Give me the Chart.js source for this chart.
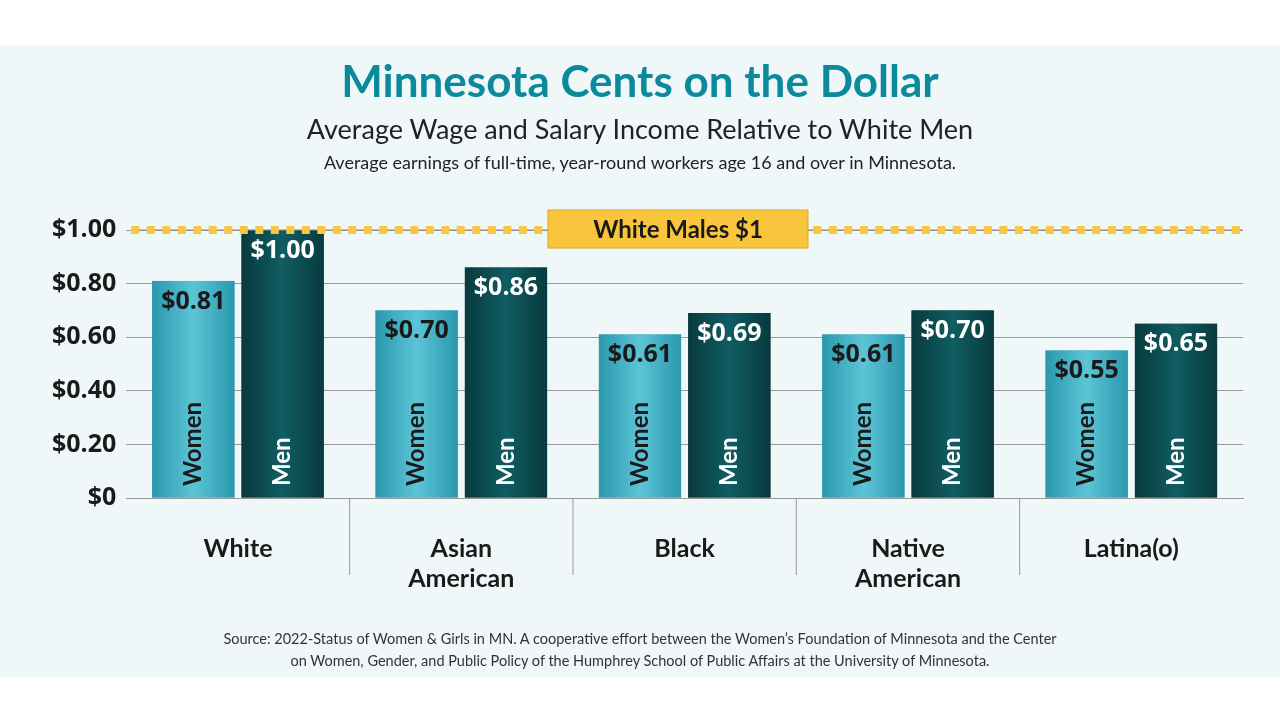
<!DOCTYPE html>
<html>
<head>
<meta charset="utf-8">
<script src="https://cdn.jsdelivr.net/npm/chart.js@4/dist/chart.umd.min.js"></script>
<style>
  body { margin: 0; width: 1280px; height: 720px; background: #fff; font-family: Lato, "Open Sans", sans-serif; overflow: hidden; }
  #panel { position: absolute; left: 0; top: 45px; width: 1280px; height: 632px; background: #eff7f9; }
  #wrap { position: absolute; left: 0; top: 0; width: 1280px; height: 720px; }
  .t { position: absolute; left: 0; width: 1280px; text-align: center; }
  #title { top: 54px; font-size: 44px; font-weight: bold; color: #0b8a9c; }
  #sub { top: 112px; font-size: 27px; color: #222; }
  #sub2 { top: 151px; font-size: 18px; color: #222; }
  #src { top: 628px; font-size: 14.5px; color: #333; line-height: 22px; }
</style>
</head>
<body>
<div id="panel"></div>
<div id="wrap"><canvas id="chart" width="1280" height="720"></canvas></div>
<div class="t" id="title">Minnesota Cents on the Dollar</div>
<div class="t" id="sub">Average Wage and Salary Income Relative to White Men</div>
<div class="t" id="sub2">Average earnings of full-time, year-round workers age 16 and over in Minnesota.</div>
<div class="t" id="src">Source: 2022-Status of Women &amp; Girls in MN. A cooperative effort between the Women’s Foundation of Minnesota and the Center<br>on Women, Gender, and Public Policy of the Humphrey School of Public Affairs at the University of Minnesota.</div>
<script>
const categories = [['White'], ['Asian', 'American'], ['Black'], ['Native', 'American'], ['Latina(o)']];
const womenValues = [0.81, 0.70, 0.61, 0.61, 0.55];
const menValues = [1.00, 0.86, 0.69, 0.70, 0.65];
const seriesNames = ['Women', 'Men'];
const yTicks = [0, 0.2, 0.4, 0.6, 0.8, 1.0];
const referenceValue = 1.0;
const referenceLabel = 'White Males $1';

const barStyle = [
    { edge: '#2b98ae', mid: '#5cc4d6', text: '#1a1a1a' },
    { edge: '#083a3e', mid: '#0f5d62', text: '#ffffff' }
];

const barPlugin = {
    id: 'barDecor',
    afterDatasetsDraw(chart) {
        const ctx = chart.ctx;
        const y = chart.scales.y;
        const area = chart.chartArea;
        ctx.save();
        // gradient fill over each bar, using the bar element geometry
        chart.data.datasets.forEach((ds, i) => {
            chart.getDatasetMeta(i).data.forEach(el => {
                const x0 = el.x - el.width / 2, x1 = el.x + el.width / 2;
                const g = ctx.createLinearGradient(x0, 0, x1, 0);
                g.addColorStop(0, barStyle[i].edge);
                g.addColorStop(0.5, barStyle[i].mid);
                g.addColorStop(1, barStyle[i].edge);
                ctx.fillStyle = g;
                ctx.fillRect(x0, el.y, el.width, el.base - el.y);
            });
        });
        chart.data.datasets.forEach((ds, i) => {
            chart.getDatasetMeta(i).data.forEach((el, j) => {
                ctx.fillStyle = barStyle[i].text;
                ctx.font = 'bold 25px "Open Sans", sans-serif';
                ctx.textAlign = 'center';
                ctx.textBaseline = 'top';
                ctx.fillText('$' + ds.data[j].toFixed(2), el.x, el.y + 8);
                ctx.save();
                ctx.translate(el.x, area.bottom - 12);
                ctx.rotate(-Math.PI / 2);
                ctx.textAlign = 'left';
                ctx.textBaseline = 'middle';
                ctx.font = 'bold 24px Lato, sans-serif';
                ctx.fillText(ds.label, 0, 0);
                ctx.restore();
            });
        });
        // category dividers
        const x = chart.scales.x;
        ctx.strokeStyle = '#999';
        ctx.lineWidth = 1;
        for (let k = 1; k < categories.length; k++) {
            const xp = (x.getPixelForValue(k - 1) + x.getPixelForValue(k)) / 2;
            ctx.beginPath();
            ctx.moveTo(xp, area.bottom);
            ctx.lineTo(xp, area.bottom + 77);
            ctx.stroke();
        }
        // reference line
        const ry = y.getPixelForValue(referenceValue);
        const lx0 = area.left + 5, lx1 = area.right;
        const bx0 = 548, bx1 = 808;
        ctx.strokeStyle = '#8a8a8a';
        ctx.beginPath();
        ctx.moveTo(lx0, ry); ctx.lineTo(lx1, ry);
        ctx.stroke();
        ctx.fillStyle = '#f7c744';
        for (let p = lx0; p < lx1 - 6; p += 15.5) {
            if (p + 8 > bx0 && p < bx1 + 5) continue;
            ctx.fillRect(p, ry - 4, 8, 8);
        }
        ctx.fillStyle = '#f9c53c';
        ctx.strokeStyle = '#d9a82a';
        ctx.fillRect(bx0, ry - 20, bx1 - bx0, 38);
        ctx.strokeRect(bx0, ry - 20, bx1 - bx0, 38);
        ctx.fillStyle = '#1a1a1a';
        ctx.font = 'bold 24px Lato, sans-serif';
        ctx.textAlign = 'center';
        ctx.textBaseline = 'middle';
        ctx.fillText(referenceLabel, (bx0 + bx1) / 2, ry);
        ctx.restore();
    }
};

new Chart(document.getElementById('chart'), {
    type: 'bar',
    data: {
        labels: categories,
        datasets: [
            { label: seriesNames[0], data: womenValues, backgroundColor: barStyle[0].edge },
            { label: seriesNames[1], data: menValues, backgroundColor: barStyle[1].edge }
        ]
    },
    options: {
        responsive: false,
        animation: false,
        events: [],
        datasets: { bar: { categoryPercentage: 0.8, barPercentage: 0.92 } },
        layout: { padding: { top: 230, left: 42, right: 37, bottom: 98 } },
        plugins: { legend: { display: false }, tooltip: { enabled: false } },
        scales: {
            x: {
                grid: { display: false },
                border: { color: '#999' },
                ticks: { color: '#1a1a1a', font: { family: 'Lato', size: 25, weight: 'bold' }, padding: 28 }
            },
            y: {
                min: 0, max: 1,
                afterBuildTicks: axis => { axis.ticks = yTicks.map(v => ({ value: v })); },
                grid: { color: '#999', drawTicks: false },
                border: { display: false },
                ticks: {
                    color: '#1a1a1a', padding: 10,
                    font: { family: '"Open Sans"', size: 25, weight: 'bold' },
                    callback: v => v === 0 ? '$0' : '$' + v.toFixed(2)
                }
            }
        }
    },
    plugins: [barPlugin]
});
</script>
</body>
</html>
